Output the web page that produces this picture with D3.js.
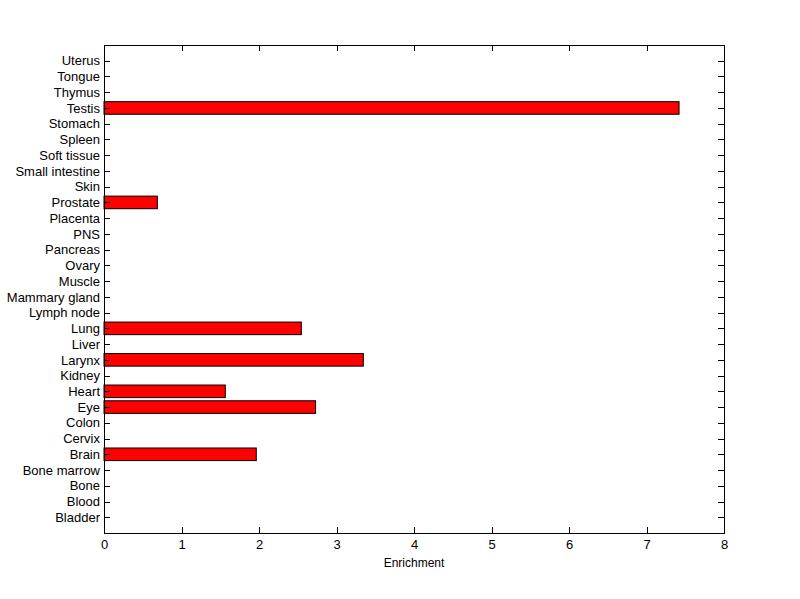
<!DOCTYPE html>
<html><head><meta charset="utf-8">
<script src="https://cdn.jsdelivr.net/npm/d3@7"></script>
<style>body{margin:0;background:#fff}svg{display:block}text{font-family:"Liberation Sans",Arial,sans-serif}</style>
</head><body><svg id="c" width="800" height="599"></svg>
<script>
const categories = ["Bladder","Blood","Bone","Bone marrow","Brain","Cervix","Colon","Eye","Heart","Kidney","Larynx","Liver","Lung","Lymph node","Mammary gland","Muscle","Ovary","Pancreas","PNS","Placenta","Prostate","Skin","Small intestine","Soft tissue","Spleen","Stomach","Testis","Thymus","Tongue","Uterus"];
const values = [0,0,0,0,1.965,0,0,2.73,1.565,0,3.346,0,2.546,0,0,0,0,0,0,0,0.688,0,0,0,0,0,7.42,0,0,0];
const xTicks = [0,1,2,3,4,5,6,7,8];

const svg = d3.select("#c");
const L=104,R=724,T=45,B=533;
const x = d3.scaleLinear().domain([0,8]).range([L,R]);
const y = d3.scaleLinear().domain([0,categories.length+1]).range([B,T]);
const bw = Math.abs(y(0.8)-y(0));
const fs = "13px";

svg.append("rect").attr("x",L).attr("y",T).attr("width",R-L).attr("height",B-T).attr("fill","#fff");

// bars
svg.append("g").selectAll("rect").data(categories.map((c,i)=>({c,v:values[i],i})).filter(d=>d.v>0))
 .join("rect")
 .attr("x",x(0)).attr("y",d=>y(d.i+1)-bw/2)
 .attr("width",d=>x(d.v)-x(0)).attr("height",bw)
 .attr("fill","#ff0000").attr("stroke","#000").attr("stroke-width",1);

const ticksY = categories.map((c,i)=>i+1);
// left axis
const ax = svg.append("g").attr("transform",`translate(${L},0)`)
 .call(d3.axisLeft(y).tickValues(ticksY).tickFormat(d=>categories[d-1]).tickSizeInner(-6).tickSizeOuter(0).tickPadding(4));
// right axis
const axR = svg.append("g").attr("transform",`translate(${R},0)`)
 .call(d3.axisRight(y).tickValues(ticksY).tickFormat("").tickSizeInner(-6).tickSizeOuter(0));
// bottom
const axB = svg.append("g").attr("transform",`translate(0,${B})`)
 .call(d3.axisBottom(x).tickValues(xTicks).tickFormat(d3.format("d")).tickSizeInner(-6).tickSizeOuter(0).tickPadding(5));
// top
const axT = svg.append("g").attr("transform",`translate(0,${T})`)
 .call(d3.axisTop(x).tickValues(xTicks).tickFormat("").tickSizeInner(-6).tickSizeOuter(0));

[ax,axR,axB,axT].forEach(g=>{
  g.selectAll("path.domain").remove();
  g.selectAll("line").attr("stroke","#000").attr("shape-rendering","crispEdges");
  g.selectAll("text").attr("fill","#000").style("font-size",fs).attr("font-family",null);
});
ax.selectAll("text").attr("x",-4);
axB.selectAll("text").attr("dy","0.71em").attr("y",7);

// frame
svg.append("rect").attr("x",L).attr("y",T).attr("width",R-L).attr("height",B-T)
 .attr("fill","none").attr("stroke","#000").attr("shape-rendering","crispEdges");

svg.append("text").attr("x",(L+R)/2).attr("y",567).attr("text-anchor","middle")
 .style("font-size","12px").attr("fill","#000").text("Enrichment");
</script></body></html>
